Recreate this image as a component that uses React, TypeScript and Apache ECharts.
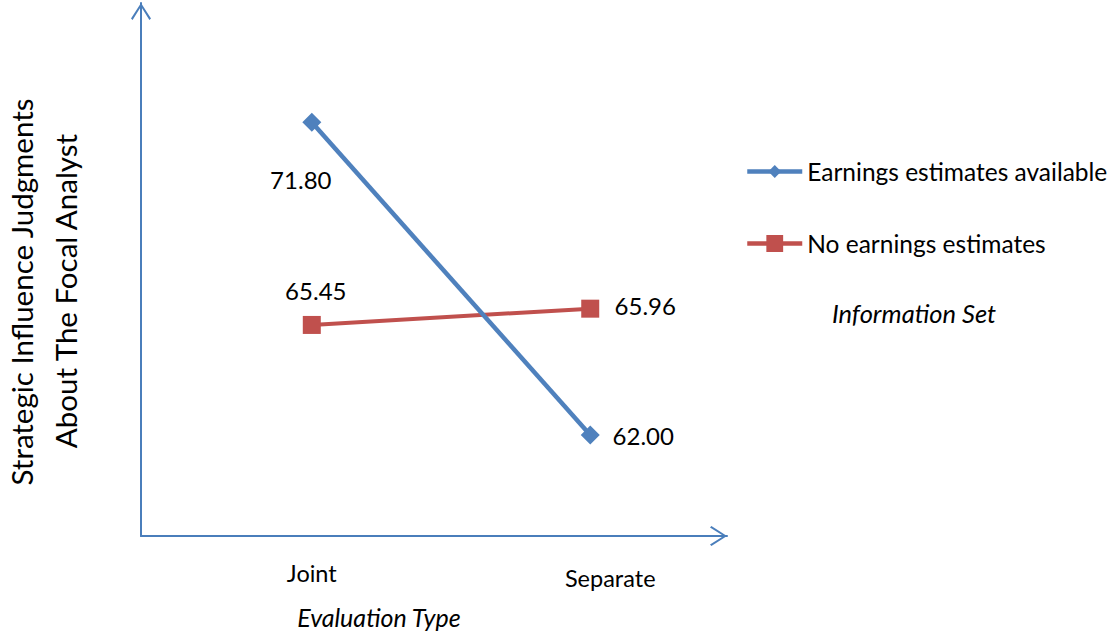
import React, { useEffect, useRef } from "react";
import * as echarts from "echarts";

const categories = ["Joint", "Separate"];
const seriesNames = ["Earnings estimates available", "No earnings estimates"];
const earningsAvailable = [71.8, 62.0];
const noEarnings = [65.45, 65.96];
const yAxisTitle = ["Strategic Influence Judgments", "About The Focal Analyst"];
const xAxisTitle = "Evaluation Type";
const legendTitle = "Information Set";

const FONT = "Lato, 'Open Sans', sans-serif";
const BLUE = "#4F81BD";
const RED = "#C0504D";
const AXIS = "#4A7EBB";
const CHEVRON = "path://M10,0 L20,15.6 L18.4,17 L10,3.4 L1.6,17 L0,15.6 Z";

export default function App() {
  const ref = useRef<HTMLDivElement>(null);

  useEffect(() => {
    if (!ref.current) return;
    const chart = echarts.init(ref.current, null, { renderer: "svg" });

    const labelOffsets1 = [[-11, 57], [53, 0]];
    const labelOffsets2 = [[4, -34], [55, -3]];

    const mkData = (vals: number[], offs: number[][]) =>
      vals.map((v, i) => ({
        value: [i, v],
        label: { offset: offs[i] },
      }));

    const labelBase = {
      show: true,
      position: "inside",
      align: "center",
      verticalAlign: "middle",
      fontFamily: FONT,
      fontSize: 24,
      color: "#000",
      formatter: (p: any) => Number(p.value[1]).toFixed(2),
    };

    chart.setOption({
      animation: false,
      grid: { left: 141, right: 385, top: 3, bottom: 99 },
      xAxis: {
        type: "value",
        min: -0.6134,
        max: 1.4912,
        splitLine: { show: false },
        axisTick: { show: false },
        axisLine: {
          show: true,
          onZero: false,
          lineStyle: { color: AXIS, width: 2 },
          symbol: ["none", CHEVRON],
          symbolSize: [20, 17],
          symbolOffset: [0, -8.5],
        },
        axisLabel: {
          customValues: [0, 1],
          margin: 24,
          formatter: (v: number) => (v === 0 ? `{a|${categories[0]}}` : `{b|${categories[1]}}`),
          rich: {
            a: { fontFamily: FONT, fontSize: 23.5, color: "#000", lineHeight: 26 },
            b: { fontFamily: FONT, fontSize: 23.5, color: "#000", lineHeight: 26, padding: [9, 0, 0, 40] },
          },
        },
      },
      yAxis: {
        type: "value",
        min: 58.836,
        max: 75.539,
        splitLine: { show: false },
        axisTick: { show: false },
        axisLabel: { show: false },
        axisLine: {
          show: true,
          onZero: false,
          lineStyle: { color: AXIS, width: 2 },
          symbol: ["none", CHEVRON],
          symbolSize: [20, 17],
          symbolOffset: [0, -8.5],
        },
      },
      legend: [
        {
          data: [seriesNames[0]],
          orient: "vertical",
          left: 745,
          top: 159,
          padding: 0,
          itemWidth: 55,
          itemHeight: 16,
          lineStyle: { width: 4.5 },
          textStyle: { fontFamily: FONT, fontSize: 24.5, color: "#000" },
          selectedMode: false,
        },
        {
          data: [seriesNames[1]],
          orient: "vertical",
          left: 745,
          top: 231,
          padding: 0,
          itemWidth: 55,
          itemHeight: 21,
          lineStyle: { width: 4.5 },
          textStyle: { fontFamily: FONT, fontSize: 24.5, color: "#000" },
          selectedMode: false,
        },
      ],
      graphic: [
        {
          type: "text",
          x: 21,
          y: 292,
          rotation: Math.PI / 2,
          style: {
            text: yAxisTitle[0],
            font: `29.5px ${FONT}`,
            fill: "#000",
            align: "center",
            verticalAlign: "middle",
          },
        },
        {
          type: "text",
          x: 65,
          y: 291,
          rotation: Math.PI / 2,
          style: {
            text: yAxisTitle[1],
            font: `29.5px ${FONT}`,
            fill: "#000",
            align: "center",
            verticalAlign: "middle",
          },
        },
        {
          type: "text",
          x: 379,
          y: 617,
          style: {
            text: xAxisTitle,
            font: `italic 25px ${FONT}`,
            fill: "#000",
            align: "center",
            verticalAlign: "middle",
          },
        },
        {
          type: "text",
          x: 914,
          y: 313,
          style: {
            text: legendTitle,
            font: `italic 25.5px ${FONT}`,
            fill: "#000",
            align: "center",
            verticalAlign: "middle",
          },
        },
      ],
      series: [
        {
          name: seriesNames[0],
          type: "line",
          data: mkData(earningsAvailable, labelOffsets1),
          symbol: "diamond",
          symbolSize: 19,
          showAllSymbol: true,
          lineStyle: { color: BLUE, width: 4.5 },
          itemStyle: { color: BLUE },
          label: labelBase,
          z: 3,
        },
        {
          name: seriesNames[1],
          type: "line",
          data: mkData(noEarnings, labelOffsets2),
          symbol: "rect",
          symbolSize: 18,
          showAllSymbol: true,
          lineStyle: { color: RED, width: 4 },
          itemStyle: { color: RED },
          label: labelBase,
          z: 2,
        },
      ],
    });

    return () => chart.dispose();
  }, []);

  return (
    <div
      ref={ref}
      style={{ position: "fixed", left: 0, top: 0, width: 1112, height: 635, background: "#fff" }}
    />
  );
}
